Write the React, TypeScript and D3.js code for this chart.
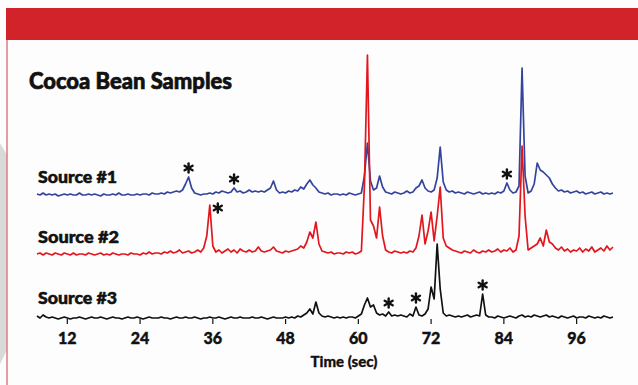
import * as d3 from "d3"

// chromatogram samples every 0.5 s from 7 s to 102 s, height above each trace's baseline
const startTime = 7
const endTime = 102
const step = 0.5

const source1 = [
  2, 1, 3, 1, 2, 1, 2, 0, 1, 2,
  1, 2, 1, 1, 3, 1, 1, 2, 1, 2,
  1, 0, 2, 1, 1, 2, 1, 3, 1, 1,
  2, 1, 1, 2, 1, 2, 2, 1, 3, 2,
  2, 3, 2, 4, 3, 4, 5, 4, 6, 12,
  19, 8, 3, 2, 1, 2, 2, 3, 2, 4,
  3, 5, 4, 3, 4, 8, 4, 5, 3, 4,
  6, 4, 5, 4, 5, 4, 6, 8, 15, 6,
  3, 4, 3, 5, 4, 6, 5, 9, 7, 12,
  16, 11, 8, 4, 3, 2, 3, 1, 2, 2,
  1, 2, 1, 3, 2, 1, 2, 3, 20, 53,
  15, 6, 8, 20, 9, 4, 3, 2, 4, 3,
  2, 3, 5, 3, 4, 8, 10, 16, 8, 5,
  4, 6, 18, 49, 14, 6, 4, 5, 3, 4,
  3, 2, 4, 3, 2, 3, 4, 2, 3, 2,
  3, 2, 4, 3, 5, 13, 6, 3, 4, 10,
  128, 20, 3, 5, 12, 33, 26, 24, 21, 18,
  12, 8, 5, 6, 4, 5, 3, 4, 5, 3,
  4, 2, 3, 4, 2, 3, 4, 2, 3, 2,
  3,
]

const source2 = [
  2, 3, 1, 3, 2, 1, 3, 2, 1, 3,
  2, 1, 3, 1, 2, 2, 1, 3, 2, 1,
  2, 3, 1, 2, 1, 3, 2, 1, 2, 2,
  1, 3, 2, 2, 1, 3, 2, 4, 2, 3,
  3, 2, 4, 3, 5, 3, 4, 6, 3, 4,
  5, 3, 4, 6, 4, 8, 20, 51, 10, 4,
  6, 3, 5, 7, 4, 6, 3, 7, 5, 4,
  6, 4, 5, 9, 5, 4, 5, 6, 9, 5,
  4, 3, 5, 4, 5, 6, 7, 10, 8, 14,
  24, 18, 34, 12, 5, 4, 3, 4, 2, 3,
  3, 2, 4, 3, 4, 2, 3, 5, 70, 201,
  36, 30, 18, 49, 20, 6, 4, 3, 5, 4,
  3, 4, 3, 5, 4, 8, 20, 41, 12, 25,
  44, 15, 40, 69, 18, 10, 8, 6, 5, 4,
  3, 5, 4, 3, 6, 4, 3, 5, 4, 6,
  4, 5, 7, 4, 6, 5, 8, 4, 6, 20,
  110, 40, 6, 8, 10, 12, 18, 10, 26, 14,
  12, 8, 6, 9, 5, 7, 4, 6, 5, 8,
  4, 7, 5, 9, 4, 6, 8, 5, 10, 6,
  9,
]

const source3 = [
  3, 1, 4, 2, 1, 2, 1, 0, 1, 2,
  1, 0, 1, 1, 2, 1, 0, 1, 2, 1,
  1, 2, 1, 0, 1, 2, 1, 1, 0, 1,
  2, 1, 1, 2, 1, 0, 1, 2, 1, 1,
  1, 2, 1, 1, 0, 1, 2, 1, 1, 2,
  1, 1, 2, 1, 0, 1, 1, 2, 1, 1,
  2, 1, 0, 1, 2, 1, 1, 2, 1, 1,
  1, 2, 1, 1, 2, 1, 0, 1, 2, 1,
  1, 1, 2, 1, 2, 1, 3, 2, 4, 6,
  10, 5, 17, 6, 3, 2, 3, 2, 1, 2,
  1, 2, 1, 2, 2, 1, 3, 5, 14, 21,
  12, 14, 6, 4, 5, 3, 7, 3, 4, 3,
  4, 3, 2, 5, 3, 12, 4, 3, 5, 10,
  32, 20, 75, 30, 6, 3, 4, 3, 2, 3,
  2, 3, 4, 2, 3, 4, 3, 25, 4, 2,
  2, 1, 3, 2, 1, 2, 3, 2, 1, 3,
  4, 2, 3, 2, 4, 3, 2, 3, 4, 2,
  3, 2, 1, 3, 2, 1, 2, 3, 1, 2,
  2, 1, 3, 2, 1, 2, 1, 3, 2, 1,
  2,
]

const seriesNames = ["Source #1", "Source #2", "Source #3"]
const seriesColors = ["#34449c", "#e2161d", "#111111"]
const tickValues = [12, 24, 36, 48, 60, 72, 84, 96]

// peaks flagged with an asterisk: series index, time (s)
const markers = [
  { series: 0, t: 32, side: "top" },
  { series: 0, t: 39.5, side: "top" },
  { series: 0, t: 84.5, side: "top" },
  { series: 1, t: 35.5, side: "right" },
  { series: 2, t: 65, side: "top" },
  { series: 2, t: 69.5, side: "top" },
  { series: 2, t: 80.5, side: "top" },
]

const W = 638
const H = 385
const font = "Lato, 'Open Sans', sans-serif"

// six-armed asterisk
function Star({ cx, cy }: { cx: number; cy: number }) {
  const r = 4.6
  const arms = [90, 30, -30].map((a) => (a * Math.PI) / 180)
  return (
    <g stroke="#111" strokeWidth={2.4} strokeLinecap="round">
      {arms.map((a, i) => (
        <line
          key={i}
          x1={cx - r * Math.cos(a)}
          y1={cy - r * Math.sin(a)}
          x2={cx + r * Math.cos(a)}
          y2={cy + r * Math.sin(a)}
        />
      ))}
    </g>
  )
}

export default function App() {
  const data = [source1, source2, source3]
  const times = d3.range(source1.length).map((i) => startTime + i * step)

  const x = d3.scaleLinear().domain([startTime, endTime]).range([37, 613])
  const baselines = [196, 256, 319]
  const yScales = baselines.map((b) => d3.scaleLinear().domain([0, 100]).range([b, b - 100]))

  const lines = data.map((vals, si) =>
    d3
      .line<number>()
      .x((_, i) => x(times[i]))
      .y((v) => yScales[si](v))(vals)
  )

  const labelY = [177, 237, 298]

  return (
    <svg
      width={W}
      height={H}
      style={{ position: "absolute", left: 0, top: 0, background: "#fdfdfd", fontFamily: font }}
    >
      {/* page edge shadow and frame */}
      <polygon points="0,143 7,155 7,350 0,364" fill="#d9d9d9" />
      <rect x={6} y={8} width={W - 6} height={32} fill="#d2232a" />
      <line x1={7} y1={40} x2={7} y2={H} stroke="#e27b7d" strokeWidth={1.5} />

      <text
        x={29}
        y={89}
        fontSize={23}
        fontWeight={900}
        fill="#111"
        stroke="#111"
        strokeWidth={0.7}
        textLength={203}
        lengthAdjust="spacingAndGlyphs"
      >
        Cocoa Bean Samples
      </text>

      {seriesNames.map((name, i) => (
        <text
          key={name}
          x={38}
          y={labelY[i] + 5.5}
          fontSize={16}
          fontWeight={900}
          fill="#111"
          stroke="#111"
          strokeWidth={0.5}
          textLength={i === 1 ? 81 : 79}
          lengthAdjust="spacingAndGlyphs"
        >
          {name}
        </text>
      ))}

      {/* x axis ticks */}
      <g>
        {tickValues.map((t) => (
          <g key={t} transform={`translate(${x(t)},0)`}>
            <line y1={baselines[2]} y2={baselines[2] + 5} stroke="#111" strokeWidth={1.2} />
            <text
              y={344}
              textAnchor="middle"
              fontSize={16}
              fontWeight={900}
              fill="#111"
              stroke="#111"
              strokeWidth={0.4}
            >
              {t}
            </text>
          </g>
        ))}
        <text
          x={344}
          y={367}
          textAnchor="middle"
          fontSize={15}
          fontWeight={900}
          fill="#111"
          stroke="#111"
          strokeWidth={0.3}
        >
          Time (sec)
        </text>
      </g>

      {lines.map((d, i) => (
        <path
          key={i}
          d={d || ""}
          fill="none"
          stroke={seriesColors[i]}
          strokeWidth={1.7}
          strokeLinejoin="round"
        />
      ))}

      {markers.map((m, i) => {
        const idx = Math.round((m.t - startTime) / step)
        const px = x(m.t)
        const py = yScales[m.series](data[m.series][idx])
        const cx = m.side === "right" ? px + 8 : px
        const cy = m.side === "right" ? py + 3 : py - 9
        return <Star key={i} cx={cx} cy={cy} />
      })}
    </svg>
  )
}
